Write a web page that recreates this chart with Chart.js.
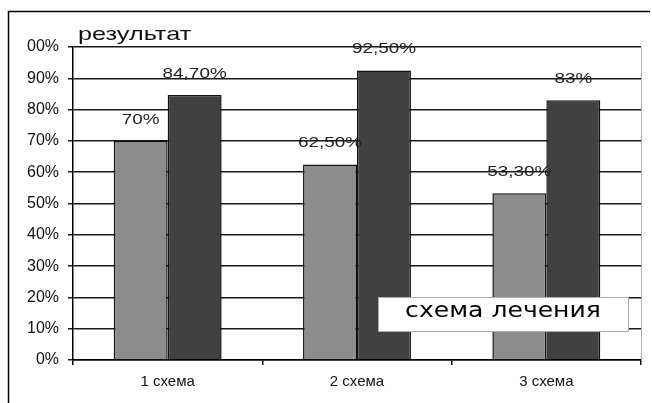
<!DOCTYPE html>
<html>
<head>
<meta charset="utf-8">
<script src="https://cdn.jsdelivr.net/npm/chart.js@4"></script>
<style>
    html, body { margin: 0; padding: 0; background: #fff; }
    #wrap { width: 652px; height: 403px; }
</style>
</head>
<body>
<div id="wrap"><canvas id="resultChart" width="652" height="403"></canvas></div>
<script>
const categories = ['1 схема', '2 схема', '3 схема'];
const lightValues = [70, 62.5, 53.3];
const darkValues = [84.7, 92.5, 83];
const yTickLabels = ['0%', '10%', '20%', '30%', '40%', '50%', '60%', '70%', '80%', '90%', '00%'];

const ARIAL = '"Liberation Sans", Arial, sans-serif';

function pct(v) {
    return Number.isInteger(v) ? v + '%' : v.toFixed(2).replace('.', ',') + '%';
}

// the source picture is stretched sideways, so text is widened a bit
function wideText(c, text, x, y, align, stretch) {
    c.save();
    c.translate(x, y);
    c.scale(stretch, 1);
    c.textAlign = align;
    c.fillText(text, 0, 0);
    c.restore();
}

const decorPlugin = {
    id: 'decor',
    beforeDraw(chart) {
        const c = chart.ctx;
        c.save();
        c.strokeStyle = '#000';
        c.lineWidth = 1.5;
        c.beginPath();
        c.moveTo(8.5, 403);
        c.lineTo(8.5, 11.5);
        c.lineTo(650, 11.5);
        c.stroke();

        c.fillStyle = '#111';
        c.font = '19px ' + ARIAL;
        c.textBaseline = 'alphabetic';
        wideText(c, 'результат', 78, 40, 'left', 1.33);
        c.restore();
    },
    afterDatasetsDraw(chart) {
        const c = chart.ctx;
        const area = chart.chartArea;
        c.save();

        // light right edge of the plot
        c.strokeStyle = '#b0b0b0';
        c.lineWidth = 1;
        c.beginPath();
        c.moveTo(area.right + 0.5, area.top);
        c.lineTo(area.right + 0.5, area.bottom);
        c.stroke();

        // value labels above bars
        c.fillStyle = '#222';
        c.font = '14px ' + ARIAL;
        c.textBaseline = 'middle';
        chart.data.datasets.forEach((ds, i) => {
            chart.getDatasetMeta(i).data.forEach((bar, j) => {
                wideText(c, pct(ds.data[j]), bar.x, bar.y - 21, 'center', 1.35);
            });
        });

        // axis caption box
        c.fillStyle = '#fff';
        c.fillRect(378, 297, 250, 34);
        c.strokeStyle = '#aaa';
        c.lineWidth = 1;
        c.strokeRect(378.5, 297.5, 250, 34);
        c.fillStyle = '#000';
        c.font = '22px "DejaVu Sans", Verdana, sans-serif';
        c.textBaseline = 'alphabetic';
        wideText(c, 'схема лечения', 503, 317, 'center', 1.14);
        c.restore();
    }
};

new Chart(document.getElementById('resultChart'), {
    type: 'bar',
    data: {
        labels: categories,
        datasets: [{
            data: lightValues,
            backgroundColor: '#8c8c8c',
            borderColor: '#111',
            borderWidth: 1.5,
            categoryPercentage: 0.57,
            barPercentage: 1
        }, {
            data: darkValues,
            backgroundColor: '#414141',
            borderColor: '#111',
            borderWidth: 1.5,
            categoryPercentage: 0.57,
            barPercentage: 1
        }]
    },
    options: {
        responsive: false,
        animation: false,
        devicePixelRatio: 1,
        layout: { padding: { top: 47, right: 11, left: 0, bottom: 0 } },
        plugins: {
            legend: { display: false },
            tooltip: { enabled: false }
        },
        scales: {
            y: {
                min: 0,
                max: 100,
                afterFit(scale) { scale.width = 73; },
                ticks: {
                    stepSize: 10,
                    padding: 9,
                    color: '#111',
                    font: { family: ARIAL, size: 16 },
                    callback: function (v) { return yTickLabels[Math.round(v / 10)]; }
                },
                grid: { color: '#1a1a1a', lineWidth: 1.5, tickLength: 5 },
                border: { color: '#000', width: 1.5 }
            },
            x: {
                afterFit(scale) { scale.height = 43; },
                ticks: {
                    padding: 8,
                    color: '#111',
                    font: { family: ARIAL, size: 15 }
                },
                grid: { drawOnChartArea: false, color: '#000', lineWidth: 1.5, tickLength: 5, offset: true },
                border: { color: '#000', width: 1.5 }
            }
        }
    },
    plugins: [decorPlugin]
});
</script>
</body>
</html>
